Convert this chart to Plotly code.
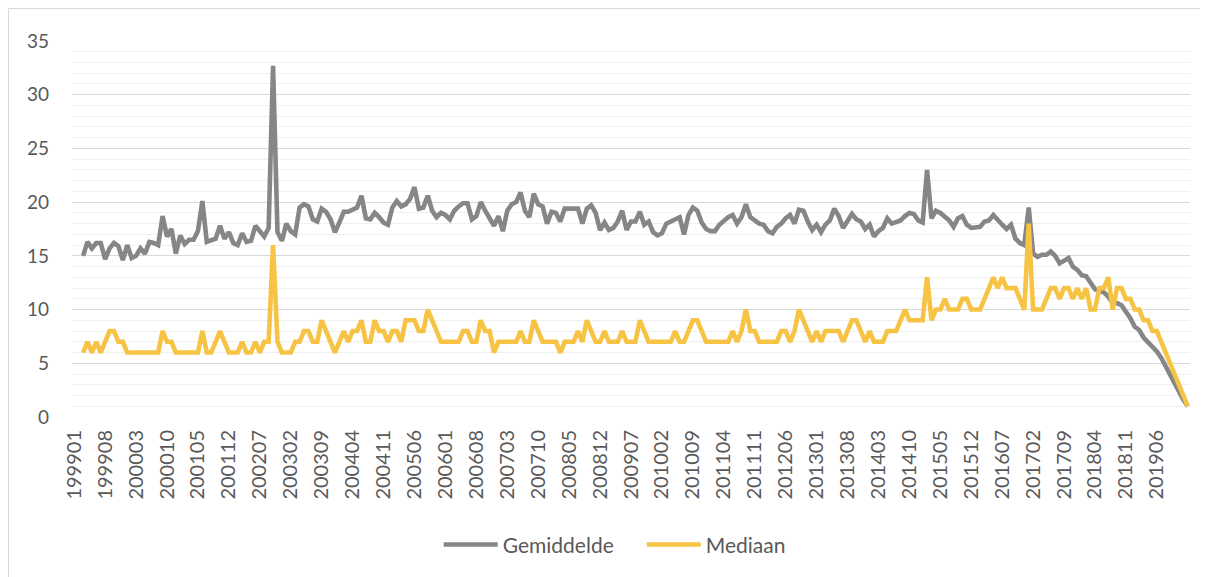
import plotly.graph_objects as go

# Categories: monthly periods 199901 .. 202001 (YYYYMM)
periods = [f"{1999 + k // 12}{k % 12 + 1:02d}" for k in range(253)]
tick_labels = periods[:246:7]

gemiddelde = [None, None,
    15.0, 16.3, 15.7, 16.2, 16.2, 14.7, 15.7, 16.2, 15.9, 14.6,
    16.0, 14.8, 15.0, 15.7, 15.2, 16.3, 16.2, 16.0, 18.7, 16.8,
    17.5, 15.2, 16.9, 16.1, 16.5, 16.5, 17.3, 20.1, 16.3, 16.4,
    16.6, 17.8, 16.6, 17.2, 16.2, 16.0, 17.1, 16.3, 16.4, 17.8,
    17.3, 16.8, 17.6, 32.7, 17.2, 16.4, 18.0, 17.3, 17.0, 19.5,
    19.8, 19.6, 18.4, 18.2, 19.4, 19.1, 18.4, 17.2, 18.1, 19.1,
    19.1, 19.3, 19.5, 20.6, 18.5, 18.4, 19.0, 18.6, 18.1, 17.9,
    19.5, 20.1, 19.6, 19.8, 20.3, 21.4, 19.4, 19.5, 20.6, 19.2,
    18.6, 19.0, 18.8, 18.4, 19.2, 19.6, 19.9, 19.9, 18.4, 18.7,
    20.0, 19.2, 18.5, 17.8, 18.7, 17.3, 19.2, 19.8, 20.0, 20.9,
    19.2, 18.6, 20.8, 19.8, 19.6, 18.0, 19.1, 19.0, 18.2, 19.4,
    19.4, 19.4, 19.4, 18.0, 19.4, 19.7, 19.0, 17.4, 18.1, 17.4,
    17.6, 18.2, 19.2, 17.4, 18.2, 18.2, 19.1, 17.9, 18.2, 17.2,
    16.9, 17.1, 18.0, 18.2, 18.4, 18.6, 17.0, 18.8, 19.5, 19.2,
    18.1, 17.5, 17.3, 17.3, 17.9, 18.3, 18.6, 18.8, 18.0, 18.6,
    19.8, 18.6, 18.3, 18.0, 17.9, 17.3, 17.1, 17.7, 18.0, 18.5,
    18.8, 18.0, 19.3, 19.2, 18.2, 17.4, 17.9, 17.2, 17.9, 18.3,
    19.4, 18.7, 17.6, 18.2, 18.9, 18.4, 18.2, 17.5, 17.9, 16.8,
    17.3, 17.6, 18.5, 18.0, 18.2, 18.3, 18.7, 19.0, 18.9, 18.3,
    18.1, 23.0, 18.5, 19.2, 19.0, 18.7, 18.3, 17.7, 18.5, 18.7,
    17.9, 17.6, 17.6, 17.7, 18.2, 18.3, 18.8, 18.3, 17.9, 17.5,
    17.9, 16.6, 16.2, 16.0, 19.5, 15.2, 14.9, 15.1, 15.1, 15.4,
    15.0, 14.3, 14.6, 14.8, 14.0, 13.7, 13.2, 13.1, 12.5, 11.9,
    11.7, 11.6, 11.2, 10.6, 10.6, 10.4, 9.8, 9.2, 8.4, 8.1,
    7.4, 7.0, 6.6, 6.1, 5.5, 4.7, 3.9, 3.1, 2.3, 1.6,
    1.0]

mediaan = [None, None,
    6, 7, 6, 7, 6, 7, 8, 8, 7, 7,
    6, 6, 6, 6, 6, 6, 6, 6, 8, 7,
    7, 6, 6, 6, 6, 6, 6, 8, 6, 6,
    7, 8, 7, 6, 6, 6, 7, 6, 6, 7,
    6, 7, 7, 16, 7, 6, 6, 6, 7, 7,
    8, 8, 7, 7, 9, 8, 7, 6, 7, 8,
    7, 8, 8, 9, 7, 7, 9, 8, 8, 7,
    8, 8, 7, 9, 9, 9, 8, 8, 10, 9,
    8, 7, 7, 7, 7, 7, 8, 8, 7, 7,
    9, 8, 8, 6, 7, 7, 7, 7, 7, 8,
    7, 7, 9, 8, 7, 7, 7, 7, 6, 7,
    7, 7, 8, 7, 9, 8, 7, 7, 8, 7,
    7, 7, 8, 7, 7, 7, 9, 8, 7, 7,
    7, 7, 7, 7, 8, 7, 7, 8, 9, 9,
    8, 7, 7, 7, 7, 7, 7, 8, 7, 8,
    10, 8, 8, 7, 7, 7, 7, 7, 8, 8,
    7, 8, 10, 9, 8, 7, 8, 7, 8, 8,
    8, 8, 7, 8, 9, 9, 8, 7, 8, 7,
    7, 7, 8, 8, 8, 9, 10, 9, 9, 9,
    9, 13, 9, 10, 10, 11, 10, 10, 10, 11,
    11, 10, 10, 10, 11, 12, 13, 12, 13, 12,
    12, 12, 11, 10, 18, 10, 10, 10, 11, 12,
    12, 11, 12, 12, 11, 12, 11, 12, 10, 10,
    12, 12, 13, 10, 12, 12, 11, 11, 10, 10,
    9, 9, 8, 8, 7, 6, 5, 4, 3, 2,
    1]

y_ticks = [0, 5, 10, 15, 20, 25, 30, 35]

FONT = "Lato"
TXT = "#595959"

fig = go.Figure()
fig.add_trace(go.Scatter(x=periods, y=gemiddelde, mode="lines", name="Gemiddelde",
                         line=dict(color="#868686", width=4.6), connectgaps=False))
fig.add_trace(go.Scatter(x=periods, y=mediaan, mode="lines", name="Mediaan",
                         line=dict(color="#F7C344", width=4.6), connectgaps=False))

# page body has an 8px margin: figure occupies 1200x569 starting at (8, 8)
fig.update_layout(
    width=1200, height=569,
    margin=dict(l=64, r=18, t=33, b=160),
    paper_bgcolor="white", plot_bgcolor="white",
    font=dict(family=FONT, color=TXT),
    showlegend=True,
    legend=dict(orientation="h", x=0.328, xanchor="left", y=-0.34, yanchor="middle",
                itemwidth=54, entrywidth=134, entrywidthmode="pixels",
                font=dict(family=FONT, size=21, color=TXT), bgcolor="rgba(0,0,0,0)"),
    shapes=[dict(type="rect", xref="paper", yref="paper",
                 xsizemode="pixel", ysizemode="pixel", xanchor=0, yanchor=0,
                 x0=-63.5, x1=1132, y0=-170, y1=408.5,
                 line=dict(color="#D9D9D9", width=1), fillcolor="rgba(0,0,0,0)", layer="below")],
)

fig.update_xaxes(type="category", categoryorder="array", categoryarray=periods,
                 tickmode="array", tickvals=tick_labels, ticktext=tick_labels,
                 tickangle=-90, tickfont=dict(family=FONT, size=20, color=TXT),
                 showgrid=False, zeroline=False, showline=False, ticks="",
                 ticklabelstandoff=8, range=[-0.5, len(periods) - 0.5])

fig.update_yaxes(range=[0, 35], tickmode="array", tickvals=y_ticks,
                 tickfont=dict(family=FONT, size=19, color=TXT),
                 showgrid=True, gridcolor="#D9D9D9", gridwidth=1.3,
                 minor=dict(dtick=1, showgrid=True, gridcolor="#F0F0F0", gridwidth=1.3),
                 zeroline=False, showline=False, ticks="", ticklabelstandoff=22)

fig.write_html("out.html")
